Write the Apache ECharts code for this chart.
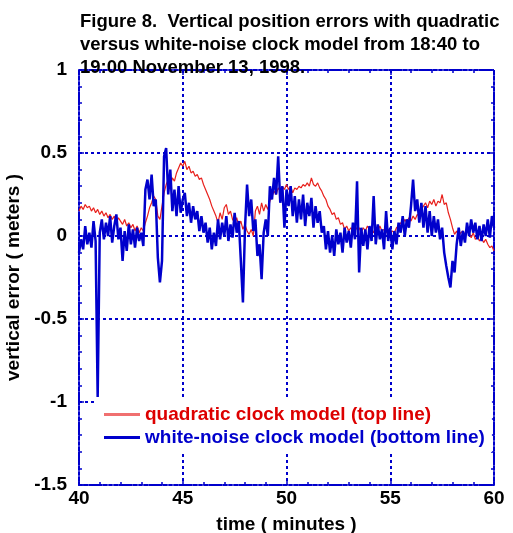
<!DOCTYPE html>
<html>
<head>
<meta charset="utf-8">
<script src="https://cdn.jsdelivr.net/npm/echarts@6/dist/echarts.min.js"></script>
<style>
  html, body { margin: 0; padding: 0; background: #fff; }
  #chart { width: 513px; height: 533px; }
</style>
</head>
<body>
<div id="chart"></div>
<script>
// time axis: samples every 0.1 minute from 40 to 60
var startMinute = 40;
var stepMinute = 0.1;
var xTicks = [40, 45, 50, 55, 60];
var yTicks = [-1.5, -1, -0.5, 0, 0.5, 1];

var titleLines = [
    'Figure 8.  Vertical position errors with quadratic',
    'versus white-noise clock model from 18:40 to',
    '19:00 November 13, 1998.'
];
var seriesNames = ['quadratic clock model (top line)', 'white-noise clock model (bottom line)'];

// quadratic clock model, one row per minute
var quadratic = [
    0.15, 0.18, 0.16, 0.19, 0.17, 0.18, 0.15, 0.17, 0.14, 0.16,
    0.13, 0.15, 0.12, 0.14, 0.11, 0.13, 0.10, 0.12, 0.08, 0.11,
    0.09, 0.07, 0.10, 0.06, 0.08, 0.05, 0.07, 0.03, 0.06, 0.02,
    0.05, 0.03, 0.08, 0.12, 0.17, 0.20, 0.24, 0.22, 0.12, 0.10,
    0.18, 0.26, 0.31, 0.34, 0.30, 0.35, 0.33, 0.38, 0.41, 0.44,
    0.42, 0.45, 0.40, 0.42, 0.38, 0.39, 0.36, 0.37, 0.34, 0.35,
    0.31, 0.28, 0.25, 0.22, 0.18, 0.15, 0.12, 0.08, 0.14, 0.10,
    0.17, 0.19, 0.13, 0.15, 0.10, 0.08, 0.11, 0.06, 0.09, 0.04,
    0.07, 0.03, 0.01, 0.04, 0.00, 0.15, 0.18, 0.13, 0.20, 0.15,
    0.19, 0.16, 0.21, 0.24, 0.27, 0.25, 0.29, 0.27, 0.30, 0.28,
    0.31, 0.28, 0.30, 0.26, 0.29, 0.28, 0.30, 0.29, 0.31, 0.30,
    0.32, 0.30, 0.35, 0.31, 0.30, 0.32, 0.29, 0.27, 0.24, 0.22,
    0.18, 0.16, 0.13, 0.14, 0.10, 0.11, 0.07, 0.08, 0.04, 0.06,
    0.03, 0.05, 0.03, 0.06, 0.04, 0.05, 0.02, 0.05, 0.03, 0.06,
    0.04, 0.05, 0.02, 0.04, 0.03, 0.06, 0.03, 0.04, 0.02, 0.04,
    0.01, 0.03, 0.02, 0.05, 0.06, 0.08, 0.07, 0.10, 0.08, 0.11,
    0.09, 0.12, 0.10, 0.13, 0.12, 0.16, 0.18, 0.20, 0.17, 0.21,
    0.19, 0.22, 0.18, 0.21, 0.20, 0.25, 0.19, 0.20, 0.14, 0.10,
    0.05, 0.01, 0.03, 0.00, 0.02, 0.03, 0.01, 0.03, 0.02, -0.01,
    0.02, -0.02, 0.00, -0.03, -0.01, -0.04, -0.02, -0.05, -0.07, -0.06,
    -0.09
];

// white-noise clock model, one row per minute
var whiteNoise = [
    -0.10, -0.02, -0.08, 0.06, -0.05, 0.02, -0.07, 0.09, -0.03, -0.97,
    0.02, 0.10, -0.02, 0.08, 0.00, 0.12, -0.04, 0.06, 0.13, -0.02,
    0.05, -0.15, 0.03, -0.09, 0.07, -0.05, 0.04, -0.07, 0.05, -0.03,
    0.02, -0.06, 0.28, 0.34, 0.22, 0.37, 0.18, 0.22, -0.13, -0.28,
    -0.15, 0.48, 0.53, 0.25, 0.40, 0.15, 0.28, 0.12, 0.30, 0.14,
    0.22, 0.26, 0.12, 0.20, 0.08, 0.18, 0.10, 0.15, 0.03, 0.12,
    0.02, 0.08, -0.04, 0.05, -0.08, 0.02, -0.06, 0.10, -0.02, 0.08,
    0.00, 0.12, -0.03, 0.07, -0.01, 0.14, 0.02, 0.09, -0.15, -0.40,
    0.05, 0.31, 0.12, 0.22, 0.03, 0.10, -0.12, -0.05, -0.26, 0.02,
    0.10, 0.00, 0.30, 0.22, 0.35, 0.25, 0.48, 0.20, 0.30, 0.05,
    0.28, 0.18, 0.30, 0.12, 0.24, 0.08, 0.22, 0.10, 0.25, 0.06,
    0.20, 0.12, 0.23, 0.05, 0.18, 0.08, 0.15, 0.02, 0.06, -0.08,
    0.03, -0.10, 0.00, -0.12, 0.04, -0.05, 0.02, -0.10, 0.05, -0.04,
    0.03, -0.07, 0.08, -0.02, 0.33, -0.22, 0.05, -0.06, 0.04, -0.08,
    0.06, -0.03, 0.24, -0.05, 0.07, -0.02, 0.04, -0.08, 0.15, -0.03,
    0.05, -0.08, 0.03, -0.05, 0.08, 0.02, 0.12, 0.00, 0.10, 0.05,
    0.18, 0.34, 0.15, 0.22, 0.08, 0.20, 0.05, 0.18, 0.02, 0.15,
    0.00, 0.12, 0.02, 0.10, -0.02, 0.05, -0.10, -0.18, -0.25, -0.31,
    -0.15, -0.22, -0.05, 0.05, -0.06, 0.03, -0.04, 0.08, 0.00, 0.10,
    0.02, 0.08, -0.02, 0.06, -0.03, 0.07, 0.00, 0.10, -0.01, 0.12,
    0.05
];

function toPairs(values) {
    return values.map(function(v, i) {
        return [+(startMinute + i * stepMinute).toFixed(1), v];
    });
}

var FONT = '"Liberation Sans", Arial, Helvetica, sans-serif';
var BLUE = '#0000cc';
var RED = '#e8201c';
var FS = 19;

var frameLine = { show: true, onZero: false, lineStyle: { color: BLUE, width: 2, type: [3, 2] } };
var gridLine = { show: true, lineStyle: { color: BLUE, width: 2, type: [3, 3] } };
var labelFont = { color: '#000', fontFamily: FONT, fontSize: FS, fontWeight: 'bold' };

function xAxis(pos, withLabels) {
    return {
        type: 'value', position: pos,
        min: xTicks[0], max: xTicks[xTicks.length - 1], interval: 5,
        axisLine: frameLine,
        axisTick: { show: true, inside: true, length: 5, lineStyle: { color: BLUE, width: 1.5 } },
        minorTick: { show: true, splitNumber: 5, length: 3, lineStyle: { color: BLUE, width: 1.5 } },
        splitLine: withLabels ? gridLine : { show: false },
        axisLabel: Object.assign({ show: withLabels, margin: 4 }, labelFont),
        name: withLabels ? 'time ( minutes )' : '',
        nameLocation: 'middle', nameGap: 30,
        nameTextStyle: labelFont
    };
}

function yAxis(pos, withLabels) {
    return {
        type: 'value', position: pos,
        min: yTicks[0], max: yTicks[yTicks.length - 1], interval: 0.5,
        axisLine: frameLine,
        axisTick: { show: true, inside: true, length: 5, lineStyle: { color: BLUE, width: 1.5 } },
        minorTick: { show: true, splitNumber: 5, length: 3, lineStyle: { color: BLUE, width: 1.5 } },
        splitLine: withLabels ? gridLine : { show: false },
        axisLabel: Object.assign({ show: withLabels, margin: 12 }, labelFont),
        name: withLabels ? 'vertical error ( meters )' : '',
        nameLocation: 'middle', nameGap: 50, nameRotate: 90,
        nameTextStyle: labelFont
    };
}

var chart = echarts.init(document.getElementById('chart'), null, { renderer: 'canvas' });
chart.setOption({
    animation: false,
    backgroundColor: '#fff',
    title: {
        text: titleLines.join('\n'),
        left: 75, top: 5,
        textStyle: { color: '#000', fontFamily: FONT, fontSize: 18.5, fontWeight: 'bold', lineHeight: 23.3 }
    },
    grid: { left: 79, right: 19, top: 70, bottom: 48, containLabel: false, outerBoundsMode: 'none' },
    xAxis: [xAxis('bottom', true), xAxis('top', false)],
    yAxis: [yAxis('left', true), yAxis('right', false)],
    legend: {
        orient: 'vertical', left: 95, top: 397, padding: [8, 7, 5, 9],
        backgroundColor: '#fff', z: 10,
        itemWidth: 36, itemHeight: 3, itemGap: 4, icon: 'rect',
        textStyle: { fontFamily: FONT, fontSize: FS, fontWeight: 'bold' },
        data: [
            { name: seriesNames[0], icon: 'rect', textStyle: { color: '#dd0000' }, itemStyle: { color: '#f07070' } },
            { name: seriesNames[1], icon: 'rect', textStyle: { color: BLUE }, itemStyle: { color: BLUE } }
        ]
    },
    series: [
        {
            name: seriesNames[0], type: 'line', showSymbol: false, symbol: 'none',
            data: toPairs(quadratic),
            lineStyle: { color: RED, width: 1.2 }, itemStyle: { color: RED }, z: 3
        },
        {
            name: seriesNames[1], type: 'line', showSymbol: false, symbol: 'none',
            data: toPairs(whiteNoise),
            lineStyle: { color: BLUE, width: 2.5 }, itemStyle: { color: BLUE }, z: 4
        }
    ]
});
</script>
</body>
</html>
